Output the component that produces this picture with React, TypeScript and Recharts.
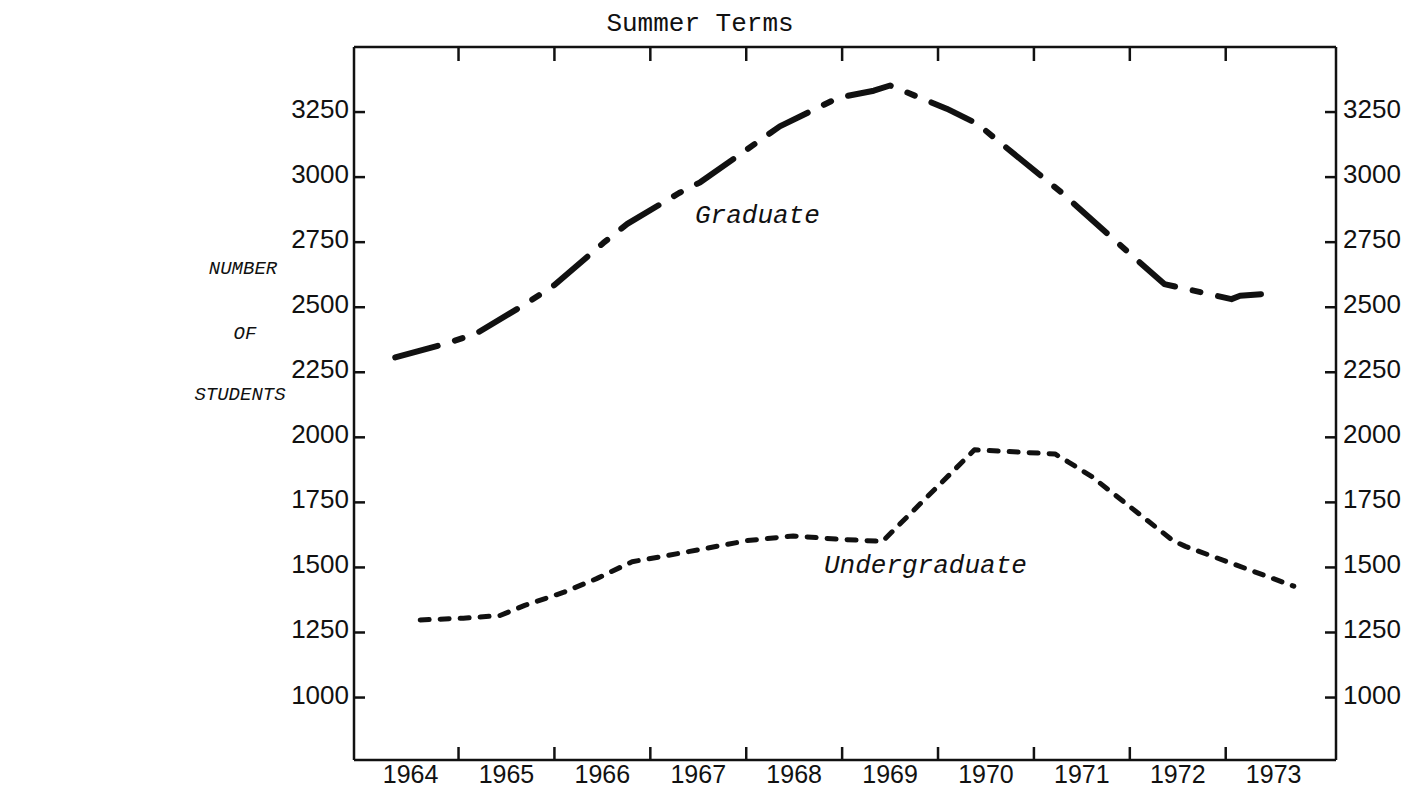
import { Line, LineChart, XAxis, YAxis } from 'recharts';

const gradYears = [
  1963.84, 1964.35, 1964.68, 1965.21, 1965.5, 1966.01, 1966.26, 1966.8, 1967.02, 1967.85, 1968.46,
  1968.83, 1969.0, 1969.59, 1969.91, 1970.14, 1970.79, 1971.52, 1971.86, 1972.56, 1972.65, 1972.9,
];
const gradStudents = [
  2307, 2358, 2398, 2515, 2585, 2747, 2820, 2939, 2980, 3195, 3305, 3332, 3352, 3263, 3205, 3135,
  2940, 2699, 2589, 2531, 2544, 2551,
];

const undergradYears = [
  1964.1, 1964.55, 1964.93, 1965.19, 1965.6, 1965.94, 1966.31, 1966.65, 1967.02, 1967.51, 1967.99,
  1968.48, 1968.92, 1969.88, 1970.72, 1970.86, 1971.1, 1971.95, 1972.08, 1973.21,
];
const undergradStudents = [
  1298, 1305, 1315, 1354, 1405, 1457, 1522, 1544, 1569, 1603, 1621, 1608, 1600, 1952, 1936, 1905,
  1850, 1603, 1581, 1428,
];

const yearLabels = [1964, 1965, 1966, 1967, 1968, 1969, 1970, 1971, 1972, 1973];
const yearDividers = [1964.5, 1965.5, 1966.5, 1967.5, 1968.5, 1969.5, 1970.5, 1971.5, 1972.5];
const studentTicks = [1000, 1250, 1500, 1750, 2000, 2250, 2500, 2750, 3000, 3250];

const gradData = gradYears.map((year, i) => ({ year, students: gradStudents[i] }));
const undergradData = undergradYears.map((year, i) => ({ year, students: undergradStudents[i] }));

const INK = '#111';
const NUM_FONT = '"Liberation Sans", Arial, sans-serif';
const MONO = '"Liberation Mono", "DejaVu Sans Mono", monospace';
const X_DOMAIN: [number, number] = [1963.41, 1973.65];
const Y_DOMAIN: [number, number] = [760, 3500];

const LeftTick = ({ x, y, payload }: any) => (
  <g>
    <line x1={x + 5} x2={x + 16} y1={y} y2={y} stroke={INK} strokeWidth={2.5} />
    <text x={x} y={y + 6} textAnchor="end" fontFamily={NUM_FONT} fontSize={26} fill={INK}>
      {payload.value}
    </text>
  </g>
);

const RightTick = ({ x, y, payload }: any) => (
  <g>
    <line x1={x - 7} x2={x - 18} y1={y} y2={y} stroke={INK} strokeWidth={2.5} />
    <text x={x} y={y + 6} textAnchor="start" fontFamily={NUM_FONT} fontSize={26} fill={INK}>
      {payload.value}
    </text>
  </g>
);

// integer years get a label, half years get the divider mark
const BottomTick = ({ x, y, payload }: any) => {
  if (Number.isInteger(payload.value)) {
    return (
      <text x={x} y={y + 23} textAnchor="middle" fontFamily={NUM_FONT} fontSize={25} fill={INK}>
        {payload.value}
      </text>
    );
  }
  return <line x1={x} x2={x} y1={y} y2={y - 13} stroke={INK} strokeWidth={2.5} />;
};

const TopTick = ({ x, y }: any) => (
  <line x1={x} x2={x} y1={y} y2={y + 14} stroke={INK} strokeWidth={2.5} />
);

export default function App() {
  return (
    <div
      style={{
        position: 'absolute',
        left: 0,
        top: 0,
        width: 1423,
        height: 790,
        background: '#fff',
      }}
    >
      <LineChart width={1423} height={790} margin={{ top: 46, right: 17, bottom: 0, left: 294 }}>
        <XAxis
          xAxisId="x"
          type="number"
          dataKey="year"
          domain={X_DOMAIN}
          allowDataOverflow
          ticks={[...yearLabels, ...yearDividers]}
          interval={0}
          tick={BottomTick}
          tickLine={false}
          tickSize={0}
          tickMargin={0}
          height={30}
          axisLine={{ stroke: INK, strokeWidth: 2.5 }}
        />
        <XAxis
          xAxisId="xt"
          orientation="top"
          type="number"
          dataKey="year"
          domain={X_DOMAIN}
          allowDataOverflow
          ticks={yearDividers}
          interval={0}
          tick={TopTick}
          tickLine={false}
          tickSize={0}
          tickMargin={0}
          height={1}
          axisLine={{ stroke: INK, strokeWidth: 2.5 }}
        />
        <YAxis
          yAxisId="l"
          type="number"
          domain={Y_DOMAIN}
          allowDataOverflow
          ticks={studentTicks}
          interval={0}
          tick={LeftTick}
          tickLine={false}
          tickSize={0}
          tickMargin={5}
          width={60}
          axisLine={{ stroke: INK, strokeWidth: 2.5 }}
        />
        <YAxis
          yAxisId="r"
          orientation="right"
          type="number"
          domain={Y_DOMAIN}
          allowDataOverflow
          ticks={studentTicks}
          interval={0}
          tick={RightTick}
          tickLine={false}
          tickSize={0}
          tickMargin={7}
          width={70}
          axisLine={{ stroke: INK, strokeWidth: 2.5 }}
        />
        <Line
          data={gradData}
          xAxisId="x"
          yAxisId="l"
          dataKey="students"
          name="Graduate"
          type="linear"
          stroke={INK}
          strokeWidth={6}
          strokeLinecap="round"
          strokeLinejoin="round"
          strokeDasharray="44 18 8 18"
          dot={false}
          activeDot={false}
          isAnimationActive={false}
        />
        <Line
          data={undergradData}
          xAxisId="x"
          yAxisId="l"
          dataKey="students"
          name="Undergraduate"
          type="linear"
          stroke={INK}
          strokeWidth={5}
          strokeLinecap="round"
          strokeLinejoin="round"
          strokeDasharray="9 11"
          dot={false}
          activeDot={false}
          isAnimationActive={false}
        />
      </LineChart>
      <svg
        width={1423}
        height={790}
        style={{ position: 'absolute', left: 0, top: 0, pointerEvents: 'none' }}
      >
        <text x={700} y={31} textAnchor="middle" fontFamily={MONO} fontSize={26} fill={INK}>
          Summer Terms
        </text>
        <g fontFamily={MONO} fontSize={19} fontStyle="italic" fill={INK} textAnchor="middle">
          <text x={243} y={274}>NUMBER</text>
          <text x={245} y={339}>OF</text>
          <text x={240} y={400}>STUDENTS</text>
        </g>
        <g fontFamily={MONO} fontSize={26} fontStyle="italic" fill={INK}>
          <text x={695} y={223}>Graduate</text>
          <text x={824} y={573}>Undergraduate</text>
        </g>
      </svg>
    </div>
  );
}
